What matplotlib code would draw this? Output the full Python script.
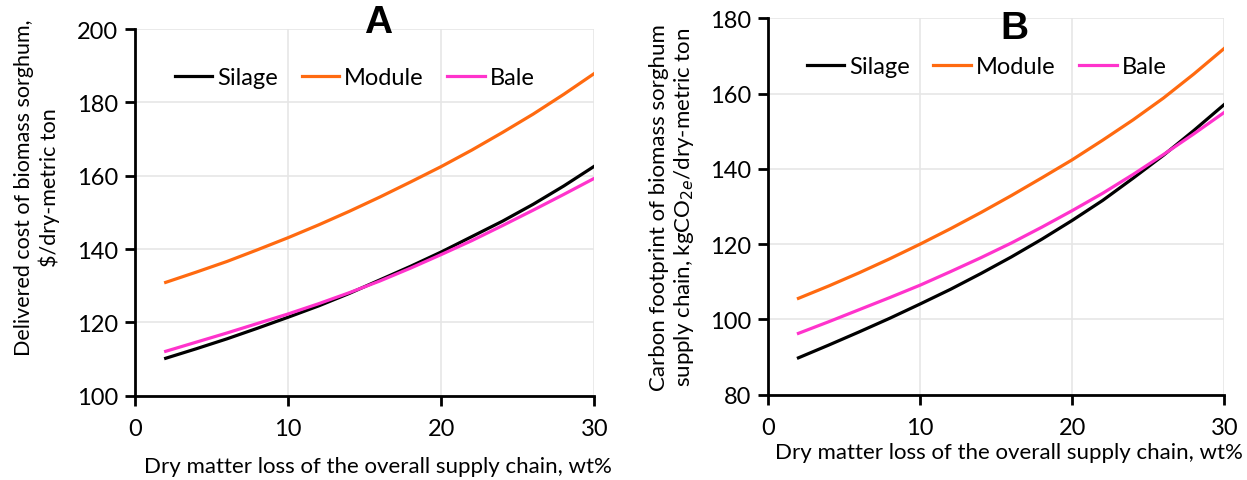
import numpy as np
import matplotlib.pyplot as plt

# dry matter loss (wt%)
dml = [2, 4, 6, 8, 10, 12, 14, 16, 18, 20, 22, 24, 26, 28, 30]

# A: delivered cost, $/dry-metric ton
cost_silage = [110.2, 112.8, 115.5, 118.4, 121.4, 124.5, 127.9, 131.6, 135.3, 139.2, 143.4, 147.6, 152.2, 157.2, 162.6]
cost_module = [130.9, 133.7, 136.6, 139.8, 143.1, 146.6, 150.3, 154.2, 158.3, 162.5, 167.0, 171.8, 176.8, 182.2, 187.9]
cost_bale = [112.1, 114.6, 117.1, 119.7, 122.3, 125.1, 128.1, 131.3, 134.8, 138.5, 142.3, 146.4, 150.6, 154.9, 159.3]

# B: carbon footprint, kgCO2e/dry-metric ton
co2_silage = [89.8, 93.2, 96.7, 100.3, 104.1, 108.0, 112.2, 116.6, 121.3, 126.3, 131.6, 137.5, 143.6, 150.2, 157.1]
co2_module = [105.6, 108.9, 112.4, 116.1, 120.0, 124.1, 128.4, 132.9, 137.6, 142.4, 147.6, 153.0, 158.8, 165.2, 172.0]
co2_bale = [96.3, 99.4, 102.6, 105.8, 109.1, 112.7, 116.4, 120.3, 124.5, 128.9, 133.5, 138.5, 143.8, 149.3, 155.0]

plt.rcParams['font.family'] = ['Lato', 'DejaVu Sans']
tick_size = 17
label_size = 16
legend_size = 17

colors = {'Silage': 'black', 'Module': '#FF6A10', 'Bale': '#FF33CC'}

fig = plt.figure(figsize=(12.47, 4.81), dpi=100)
axA = fig.add_axes([0.1083, 0.1753, 0.3684, 0.7623])
axB = fig.add_axes([0.6159, 0.1773, 0.3659, 0.7827])

def style(ax, ylim, yticks):
    ax.set_xlim(0, 30)
    ax.set_ylim(*ylim)
    ax.set_xticks([0, 10, 20, 30])
    ax.set_yticks(yticks)
    ax.grid(True, color='#e6e6e6', lw=1.2)
    ax.set_axisbelow(True)
    for s in ['top', 'right']:
        ax.spines[s].set_visible(False)
    for s in ['left', 'bottom']:
        ax.spines[s].set_linewidth(2)
    ax.tick_params(direction='out', length=7, width=2, labelsize=tick_size, pad=5)
    ax.tick_params(axis='x', pad=9)

# panel A
axA.plot(dml, cost_silage, color=colors['Silage'], lw=2.3, label='Silage')
axA.plot(dml, cost_module, color=colors['Module'], lw=2.3, label='Module')
axA.plot(dml, cost_bale, color=colors['Bale'], lw=2.3, label='Bale')
style(axA, (100, 200), [100, 120, 140, 160, 180, 200])
axA.set_ylabel('Delivered cost of biomass sorghum,\n$/dry-metric ton', fontsize=15.5,
               labelpad=12, linespacing=1.3)
axA.yaxis.label.set_y(0.57)
axA.set_xlabel('Dry matter loss of the overall supply chain, wt%', fontsize=label_size, labelpad=12)
axA.xaxis.label.set_x(0.528)
axA.text(0.53, 1.02, 'A', transform=axA.transAxes, ha='center', va='center',
         fontsize=28, fontweight='bold', family='Liberation Sans')
axA.legend(loc='upper left', bbox_to_anchor=(0.04, 0.955), ncol=3, frameon=False,
           fontsize=legend_size, handlelength=1.6, handletextpad=0.2, columnspacing=1.0)

# panel B
axB.plot(dml, co2_silage, color=colors['Silage'], lw=2.3, label='Silage')
axB.plot(dml, co2_module, color=colors['Module'], lw=2.3, label='Module')
axB.plot(dml, co2_bale, color=colors['Bale'], lw=2.3, label='Bale')
style(axB, (80, 180), [80, 100, 120, 140, 160, 180])
axB.set_ylabel('Carbon footprint of biomass sorghum\nsupply chain, kgCO$_{2e}$/dry-metric ton', fontsize=label_size,
               labelpad=10, linespacing=1.2)
axB.set_xlabel('Dry matter loss of the overall supply chain, wt%', fontsize=label_size, labelpad=3)
axB.xaxis.label.set_x(0.527)
axB.text(0.54, 0.975, 'B', transform=axB.transAxes, ha='center', va='center',
         fontsize=28, fontweight='bold', family='Liberation Sans')
axB.legend(loc='upper left', bbox_to_anchor=(0.038, 0.955), ncol=3, frameon=False,
           fontsize=legend_size, handlelength=1.6, handletextpad=0.2, columnspacing=1.0)

fig.savefig('out.png', dpi=100)
